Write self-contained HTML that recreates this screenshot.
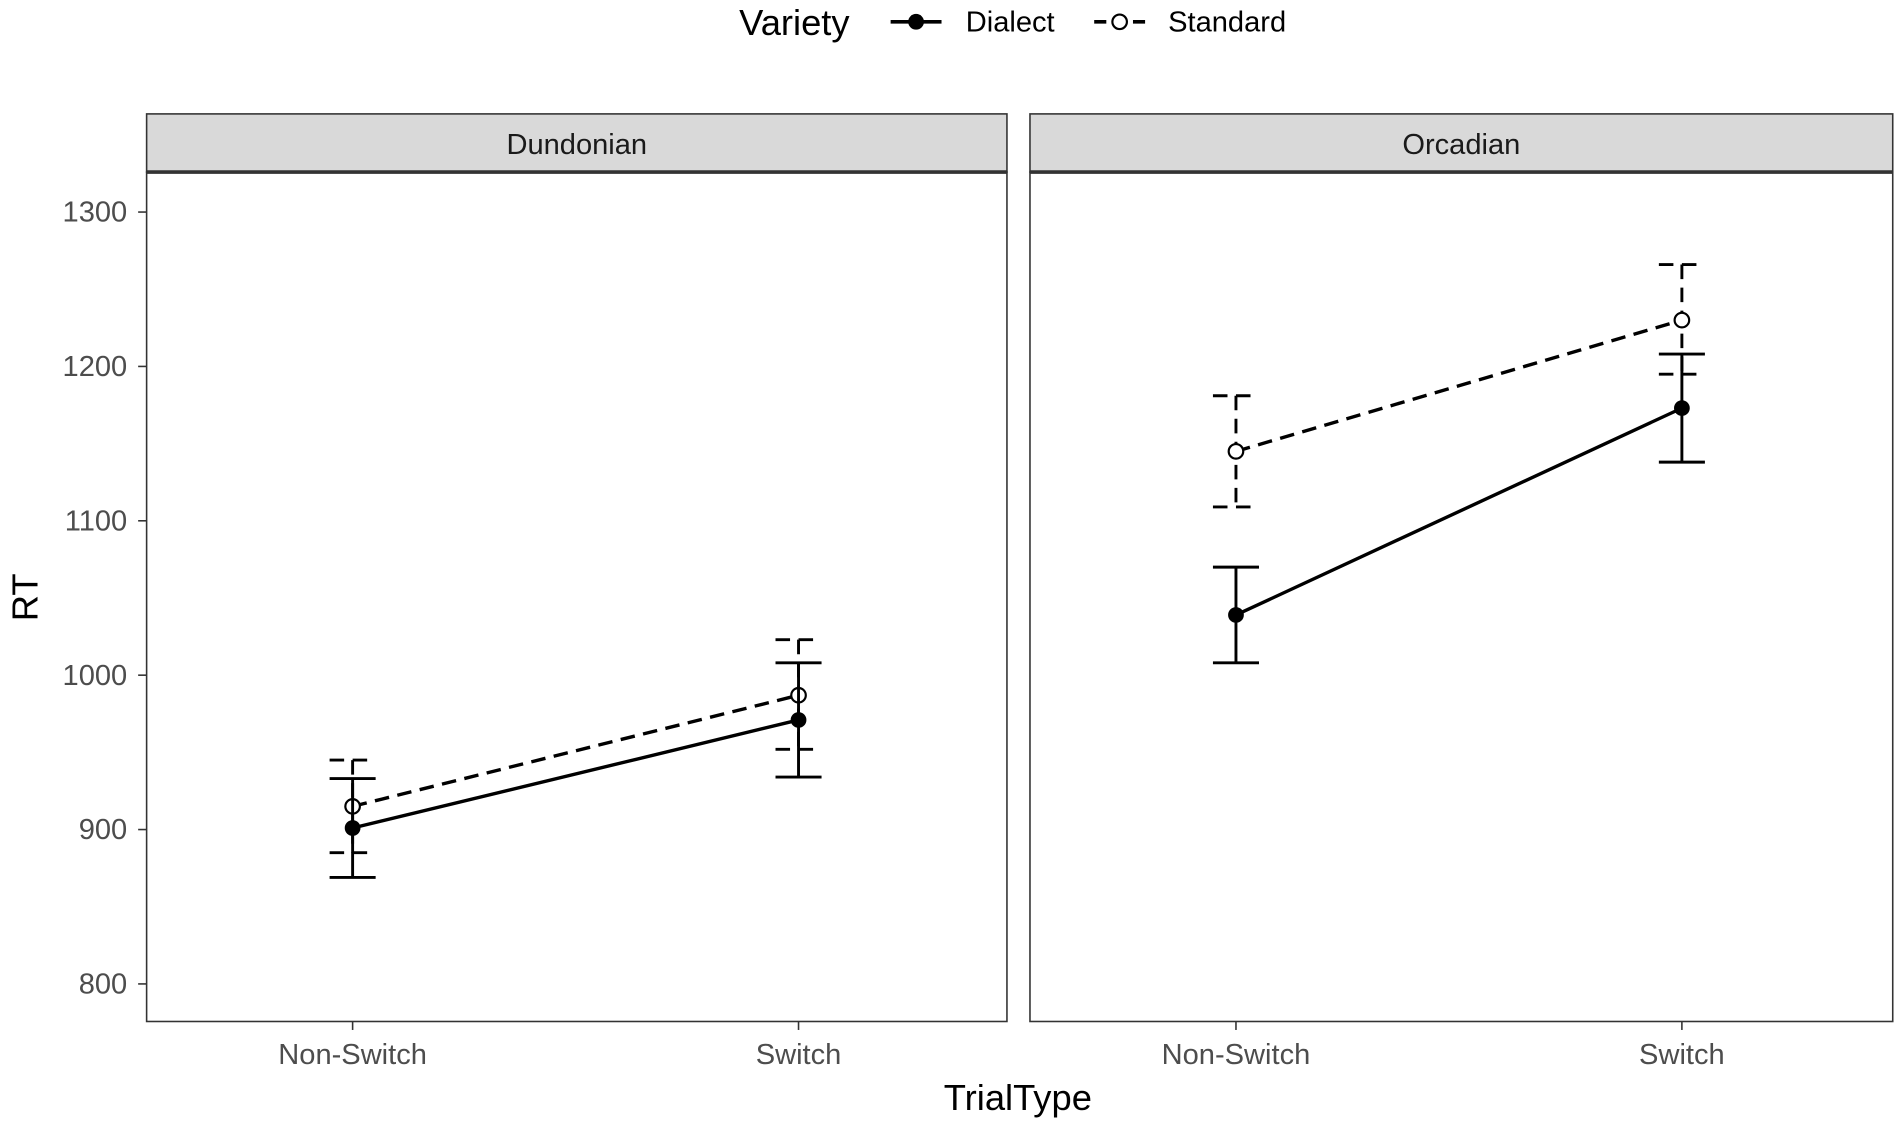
<!DOCTYPE html>
<html><head><meta charset="utf-8"><style>body{margin:0;background:#fff}svg{display:block;font-family:"Liberation Sans",sans-serif}</style></head>
<body>
<svg id="chart" width="1900" height="1124" viewBox="0 0 1568 927.6" preserveAspectRatio="none" xmlns="http://www.w3.org/2000/svg">
<g>
<text x="610" y="29" font-size="30" fill="#000">Variety</text>
<g><line x1="735" y1="18" x2="777" y2="18" stroke="#000" stroke-width="3"/><circle cx="756" cy="18" r="6.5" fill="#000"/><text x="797" y="26" font-size="24">Dialect</text></g>
<g><line x1="903" y1="18" x2="945" y2="18" stroke="#000" stroke-width="3" stroke-dasharray="10,6"/><circle cx="924" cy="18" r="6" fill="#fff" stroke="#000" stroke-width="1.8"/><text x="964" y="26" font-size="24">Standard</text></g>
</g>
<g id="plot"></g>
<text x="840" y="916" font-size="30" text-anchor="middle">TrialType</text>
<text transform="translate(31,493) rotate(-90)" font-size="30" text-anchor="middle">RT</text>
</svg>
<script>
const panels = ["Dundonian","Orcadian"];
const categories = ["Non-Switch","Switch"];
const yTicks = [800,900,1000,1100,1200,1300];
const dialectMean = [[901,971],[1039,1173]];
const dialectLow = [[869,934],[1008,1138]];
const dialectHigh = [[933,1008],[1070,1208]];
const standardMean = [[915,987],[1145,1230]];
const standardLow = [[885,952],[1109,1195]];
const standardHigh = [[945,1023],[1181,1266]];

const NS="http://www.w3.org/2000/svg";
const g=document.getElementById('plot');
function el(t,a,p){const e=document.createElementNS(NS,t);for(const k in a)e.setAttribute(k,a[k]);(p||g).appendChild(e);return e;}
const yScale=v=>812-(v-800)*1.274;
const panelX=[121,850], panelW=[710,712];
const xScale=(p,i)=>panelX[p]+(i===0?170:538);
panels.forEach((name,p)=>{
  const pg=el('g',{});
  
  
  const st=el('rect',{x:panelX[p],y:94,width:panelW[p],height:48,fill:'#d9d9d9',stroke:'#333','stroke-width':1.3},pg);
  
  
  el('line',{x1:panelX[p],y1:142,x2:panelX[p]+panelW[p],y2:142,stroke:'#333','stroke-width':3},pg);
  const stt=el('text',{x:panelX[p]+panelW[p]/2,y:127,'font-size':24,'text-anchor':'middle',fill:'#1a1a1a'},pg);stt.textContent=name;
  
  
  el('rect',{x:panelX[p],y:142,width:panelW[p],height:701,fill:'none',stroke:'#333','stroke-width':1.3},pg);
  categories.forEach((c,i)=>{
    const x=xScale(p,i);
    el('line',{x1:x,y1:843,x2:x,y2:850,stroke:'#333','stroke-width':1.3},pg);
    const t=el('text',{x:x,y:878,'font-size':24,'text-anchor':'middle',fill:'#4d4d4d'},pg);t.textContent=c;
    
    
  });
  function series(mean,low,high,dash,open,key){
    const sg=el('g',{},pg);
    
    
    for(let i=0;i<2;i++){
      const x=xScale(p,i);
      const eb=el('path',{d:`M${x-19},${yScale(high[p][i])}H${x+19}M${x},${yScale(high[p][i])}V${yScale(low[p][i])}M${x-19},${yScale(low[p][i])}H${x+19}`,stroke:'#000','stroke-width':2.4,fill:'none','stroke-dasharray':dash},sg);
      
      
    }
    const ln=el('line',{x1:xScale(p,0),y1:yScale(mean[p][0]),x2:xScale(p,1),y2:yScale(mean[p][1]),stroke:'#000','stroke-width':2.8,'stroke-dasharray':dash},sg);
    
    
    for(let i=0;i<2;i++){
      const pt=el('circle',{cx:xScale(p,i),cy:yScale(mean[p][i]),r:open?6:6.5,fill:open?'#fff':'#000',stroke:'#000','stroke-width':open?1.8:0},sg);
      
      
    }
  }
  series(standardMean,standardLow,standardHigh,'12,7',true,'standard');
  series(dialectMean,dialectLow,dialectHigh,'none',false,'dialect');
});
yTicks.forEach(v=>{
  const y=yScale(v);
  el('line',{x1:114,y1:y,x2:121,y2:y,stroke:'#333','stroke-width':1.3});
  const t=el('text',{x:105,y:y+8,'font-size':24,'text-anchor':'end',fill:'#4d4d4d'});t.textContent=v;
  
  
});
</script>
</body></html>
